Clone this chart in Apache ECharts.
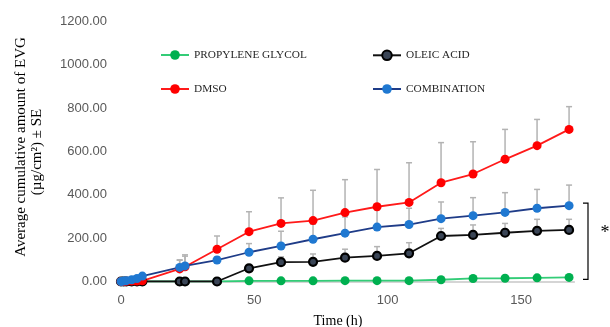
<!DOCTYPE html>
<html>
<head>
<meta charset="utf-8">
<script src="https://cdn.jsdelivr.net/npm/echarts@6/dist/echarts.min.js"></script>
<style>
html,body{margin:0;padding:0;background:#fff;}
#c{width:610px;height:327px;}
</style>
</head>
<body>
<div id="c"></div>
<script>
const times = [0, 1, 2, 4, 6, 8, 22, 24, 36, 48, 60, 72, 84, 96, 108, 120, 132, 144, 156, 168];
const propylene    = [0, 0, 0, 0, 0, 0, 0, 0, 0, 3, 3, 3, 4, 4, 4, 8, 14, 15, 17, 19];
const propyleneErr = [0, 0, 0, 0, 0, 0, 0, 0, 0, 0, 0, 0, 0, 0, 0, 0, 0, 0, 0, 0];
const oleic        = [0, 0, 0, 0, 0, 0, 0, 0, 0, 61, 89, 91, 110, 118, 130, 210, 215, 225, 234, 238];
const oleicErr     = [0, 0, 0, 0, 0, 0, 0, 0, 0, 15, 25, 36, 39, 43, 49, 35, 46, 43, 53, 49];
const dmso         = [0, 0, 1, 2, 2, 3, 58, 68, 149, 230, 268, 281, 318, 345, 365, 456, 496, 564, 627, 702];
const dmsoErr      = [0, 0, 0, 0, 0, 0, 40, 55, 61, 92, 118, 140, 152, 172, 183, 185, 149, 138, 121, 105];
const combo        = [0, 2, 4, 8, 14, 25, 65, 72, 99, 135, 164, 195, 223, 251, 263, 290, 304, 319, 338, 350];
const comboErr     = [0, 0, 0, 0, 0, 0, 35, 45, 15, 40, 68, 70, 75, 80, 75, 77, 83, 91, 87, 95];
const yTicks = [0, 200, 400, 600, 800, 1000, 1200];
const xTicks = [0, 50, 100, 150];
const seriesNames = ['PROPYLENE GLYCOL', 'OLEIC ACID', 'DMSO', 'COMBINATION'];

const chart = echarts.init(document.getElementById('c'), null, {renderer: 'canvas'});

function pairs(ys) { return times.map((t, i) => [t, ys[i]]); }
function errData(ys, es) { return times.map((t, i) => [t, ys[i], ys[i] + es[i]]); }

function errSeries(ys, es) {
  return {
    type: 'custom',
    data: errData(ys, es),
    z: 1,
    silent: true,
    renderItem: function (params, api) {
      const x = api.value(0), v = api.value(1), top = api.value(2);
      if (top - v <= 0) return null;
      const p0 = api.coord([x, v]);
      const p1 = api.coord([x, top]);
      return {
        type: 'group',
        children: [
          {type: 'line', shape: {x1: p0[0], y1: p0[1], x2: p1[0], y2: p1[1]}, style: {stroke: '#b3b3b3', lineWidth: 1.5}},
          {type: 'line', shape: {x1: p1[0] - 3, y1: p1[1], x2: p1[0] + 3, y2: p1[1]}, style: {stroke: '#b3b3b3', lineWidth: 1.5}}
        ]
      };
    },
    encode: {x: 0, y: 1}
  };
}

function lineSeries(name, ys, lineColor, fill, border, bw, size) {
  return {
    name: name,
    type: 'line',
    data: pairs(ys),
    z: 3,
    symbol: 'circle',
    symbolSize: size,
    showAllSymbol: true,
    lineStyle: {color: lineColor, width: 1.8},
    itemStyle: {color: fill, borderColor: border, borderWidth: bw},
    emphasis: {disabled: true},
    animation: false
  };
}

const legendText = {fontFamily: 'Liberation Serif', fontSize: 11.3, color: '#262626'};
function legendAt(name, left, top) {
  return {data: [name], left: left, top: top, padding: 0, itemWidth: 28, itemHeight: 12, itemGap: 0,
          textStyle: legendText, selectedMode: false};
}

const gridLeft = 121, gridTop = 21.5, gridW = 453.4, gridH = 260;

chart.setOption({
  animation: false,
  backgroundColor: '#fff',
  grid: {left: gridLeft, top: gridTop, width: gridW, height: gridH, containLabel: false},
  legend: [
    legendAt(seriesNames[0], 160, 49.5),
    legendAt(seriesNames[1], 372, 49.5),
    legendAt(seriesNames[2], 160, 83.5),
    legendAt(seriesNames[3], 372, 83.5)
  ],
  xAxis: {
    type: 'value', min: 0, max: 170, interval: 50,
    axisLine: {show: true, lineStyle: {color: '#c8c8c8', width: 1.5}},
    axisTick: {show: false},
    splitLine: {show: false},
    axisLabel: {color: '#595959', fontFamily: 'Liberation Sans', fontSize: 13, margin: 12,
                showMaxLabel: false,
                formatter: v => xTicks.includes(v) ? String(v) : ''}
  },
  yAxis: {
    type: 'value', min: 0, max: 1200, interval: 200,
    axisLine: {show: false},
    axisTick: {show: false},
    splitLine: {show: false},
    axisLabel: {color: '#595959', fontFamily: 'Liberation Sans', fontSize: 13, margin: 14,
                formatter: v => yTicks.includes(v) ? v.toFixed(2) : ''}
  },
  series: [
    errSeries(propylene, propyleneErr),
    errSeries(oleic, oleicErr),
    errSeries(dmso, dmsoErr),
    errSeries(combo, comboErr),
    lineSeries(seriesNames[0], propylene, '#33cc77', '#00b050', '#00b050', 0, 9),
    lineSeries(seriesNames[1], oleic, '#111111', '#3a4556', '#000000', 2.2, 8),
    lineSeries(seriesNames[2], dmso, '#ff1a1a', '#ff0000', '#ff0000', 0, 9),
    lineSeries(seriesNames[3], combo, '#1f3c88', '#1f78d1', '#1f78d1', 0, 9)
  ]
});

// annotation bracket and axis titles
const topPx = chart.convertToPixel({gridIndex: 0}, [168, 362]);
const botPx = chart.convertToPixel({gridIndex: 0}, [168, 10]);
const bx = 588;
chart.setOption({
  graphic: [
    {type: 'polyline', shape: {points: [[bx - 5, topPx[1]], [bx, topPx[1]], [bx, botPx[1]], [bx - 5, botPx[1]]]},
     style: {stroke: '#000', lineWidth: 1.2, fill: null}},
    {type: 'text', x: 605, y: (topPx[1] + botPx[1]) / 2 - 8,
     style: {text: '*', font: '18px "Liberation Serif"', fill: '#000', align: 'center', verticalAlign: 'middle'}},
    {type: 'text', x: 21.5, y: 147, rotation: Math.PI / 2,
     style: {text: 'Average cumulative amount of EVG', font: '15px "Liberation Serif"', fill: '#000', align: 'center', verticalAlign: 'middle'}},
    {type: 'text', x: 37, y: 152, rotation: Math.PI / 2,
     style: {text: '(µg/cm²) ± SE', font: '15px "Liberation Serif"', fill: '#000', align: 'center', verticalAlign: 'middle'}},
    {type: 'text', x: 338, y: 321.5,
     style: {text: 'Time (h)', font: '14px "Liberation Serif"', fill: '#000', align: 'center', verticalAlign: 'middle'}}
  ]
});
</script>
</body>
</html>
